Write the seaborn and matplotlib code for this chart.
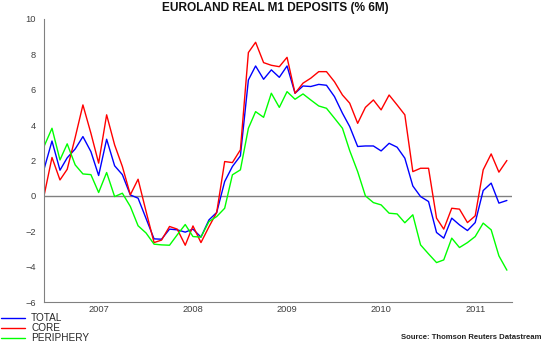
import pandas as pd
import seaborn as sns
import matplotlib
matplotlib.use("Agg")
import matplotlib.pyplot as plt
import numpy as np

# Monthly % 6m changes, Nov 2006 - Oct 2011
months = pd.date_range("2006-11-30", periods=60, freq="ME")

total = [1.5, 3.1, 1.45, 2.15, 2.65, 3.35, 2.5, 1.15, 3.2, 1.7, 1.2, 0.05,
         -0.13, -1.28, -2.43, -2.45, -1.88, -1.92, -2.05, -1.88, -2.33, -1.36, -0.94, 0.81,
         1.66, 2.26, 6.55, 7.34, 6.59, 7.12, 6.7, 7.34, 5.8, 6.21, 6.18, 6.3,
         6.25, 5.61, 4.67, 3.92, 2.79, 2.82, 2.82, 2.54, 2.97, 2.75, 2.13, 0.56,
         -0.04, -0.32, -2.07, -2.39, -1.26, -1.64, -1.96, -1.51, 0.3, 0.72, -0.41, -0.26]
core = [0.0, 2.17, 0.9, 1.5, 3.3, 5.14, 3.54, 1.85, 4.58, 2.88, 1.66, 0.06,
        0.94, -0.88, -2.64, -2.5, -1.73, -1.88, -2.79, -1.7, -2.64, -1.75, -0.94, 1.94,
        1.88, 2.6, 8.1, 8.68, 7.53, 7.38, 7.3, 7.83, 5.8, 6.37, 6.65, 7.02,
        7.02, 6.45, 5.7, 5.24, 4.1, 5.0, 5.42, 4.86, 5.7, 5.14, 4.58, 1.37,
        1.56, 1.56, -1.26, -1.88, -0.7, -0.75, -1.51, -1.13, 1.47, 2.37, 1.34, 2.0]
periphery = [2.79, 3.82, 2.03, 2.94, 1.75, 1.24, 1.2, 0.19, 1.32, -0.04, 0.15, -0.6,
             -1.69, -2.1, -2.73, -2.77, -2.79, -2.2, -1.62, -2.3, -2.33, -1.45, -1.17, -0.7,
             1.19, 1.47, 3.82, 4.76, 4.44, 5.8, 5.0, 5.89, 5.46, 5.76, 5.42, 5.08,
             4.95, 4.39, 3.82, 2.56, 1.37, 0.0, -0.38, -0.51, -0.98, -1.02, -1.52, -1.07,
             -2.77, -3.28, -3.77, -3.62, -2.39, -2.92, -2.64, -2.3, -1.54, -1.92, -3.39, -4.2]

series_names = ["TOTAL", "CORE", "PERIPHERY"]
series_colors = ["#0000ff", "#ff0000", "#00ff00"]
years = [2007, 2008, 2009, 2010, 2011]

df = pd.DataFrame({"date": months, "TOTAL": total, "CORE": core, "PERIPHERY": periphery})
df_long = df.melt("date", series_names, var_name="series", value_name="pct")

sns.set_style("white")
plt.rcParams["font.family"] = ["Liberation Sans", "DejaVu Sans"]

fig = plt.figure(figsize=(5.5, 3.44), dpi=100)
ax = fig.add_axes([0.08, 0.122, 0.851, 0.823])

sns.lineplot(data=df_long, x="date", y="pct", hue="series",
             hue_order=series_names, palette=series_colors,
             linewidth=1.0, ax=ax)

ax.axhline(0, color="#808080", lw=1.0, zorder=0)

# y axis
ax.set_ylim(-6, 10)
ax.set_yticks(np.arange(-6, 11, 2))
ax.set_yticks(np.arange(-6, 10.01, 0.4), minor=True)

# x axis: year boundaries as ticks, year labels in the middle
x_end = pd.Timestamp("2011-11-20")
ax.set_xlim(pd.Timestamp("2006-11-30"), x_end)
ax.set_xticks([pd.Timestamp(f"{y}-01-01") for y in years] + [x_end])
ax.set_xticklabels([""] * (len(years) + 1))
ax.set_xticks([pd.Timestamp(f"{y}-07-01") for y in years], minor=True)
ax.set_xticklabels([str(y) for y in years], minor=True)

ax.tick_params(axis="both", which="both", direction="out", color="#808080",
               labelcolor="#404040", labelsize=6.7, width=0.8)
ax.tick_params(axis="y", which="major", length=4, pad=2)
ax.tick_params(axis="y", which="minor", length=2)
ax.tick_params(axis="x", which="major", length=3)
ax.tick_params(axis="x", which="minor", length=0, pad=2)

for side in ["top", "right"]:
    ax.spines[side].set_visible(False)
for side in ["left", "bottom"]:
    ax.spines[side].set_color("#808080")
    ax.spines[side].set_linewidth(0.8)

ax.set_xlabel("")
ax.set_ylabel("")

handles, labels = ax.get_legend_handles_labels()
ax.get_legend().remove()
fig.legend(handles, labels, loc="lower left", bbox_to_anchor=(0.0, 0.0),
           frameon=False, fontsize=7.2, handlelength=2.4, handletextpad=0.6,
           labelspacing=0.0, borderpad=0.1, borderaxespad=0.0)

fig.text(0.5, 1 - 8 / 344, "EUROLAND REAL M1 DEPOSITS (% 6M)", ha="center",
         va="center", fontsize=8.6, fontweight="bold", color="#111111")
fig.text(0.985, 0.008, "Source: Thomson Reuters Datastream", ha="right",
         va="bottom", fontsize=5.6, fontweight="bold", color="#222222")

fig.savefig("out.png", dpi=100)
